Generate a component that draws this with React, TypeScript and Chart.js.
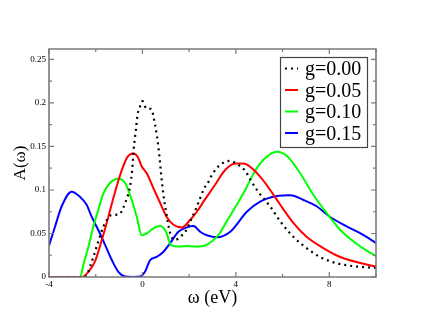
import React, { useEffect, useRef } from "react";
import { Chart, registerables } from "chart.js";

Chart.register(...registerables);

const seriesLabels = ["g=0.00", "g=0.05", "g=0.10", "g=0.15"];
const seriesColors = ["#000000", "#ff0000", "#00ff00", "#0000ff"];

const omega0 = [-4, -3, -2.5, -2.39, -2.24, -2.1, -1.89, -1.67, -1.34, -1.0, -0.7, -0.53, -0.44, -0.37, -0.28, -0.21, -0.1, 0.0, 0.16, 0.37, 0.54, 0.69, 0.79, 0.9, 1.01, 1.19, 1.4, 1.61, 1.86, 2.11, 2.4, 2.61, 2.83, 2.97, 3.33, 3.76, 4.04, 4.4, 4.61, 4.9, 5.47, 5.9, 6.47, 7.04, 7.6, 8.33, 9.19, 10];
const spectrum0 = [0, 0, 0, 0.002, 0.012, 0.023, 0.041, 0.058, 0.071, 0.072, 0.088, 0.104, 0.123, 0.148, 0.169, 0.186, 0.196, 0.202, 0.194, 0.193, 0.175, 0.148, 0.121, 0.094, 0.075, 0.05, 0.0425, 0.046, 0.053, 0.0675, 0.0855, 0.1, 0.1095, 0.117, 0.129, 0.1335, 0.13, 0.122, 0.1125, 0.1, 0.081, 0.064, 0.046, 0.033, 0.023, 0.0157, 0.012, 0.0105];

const omega1 = [-4, -3, -2.6, -2.31, -2.03, -1.74, -1.46, -1.17, -0.88, -0.64, -0.39, -0.2, -0.03, 0.19, 0.47, 0.76, 1.04, 1.33, 1.69, 2.04, 2.33, 2.65, 3.11, 3.54, 3.97, 4.33, 4.69, 5.11, 5.47, 5.9, 6.47, 7.04, 7.76, 8.47, 9.33, 10];
const spectrum1 = [0, 0, 0, 0.006, 0.018, 0.0425, 0.069, 0.098, 0.123, 0.138, 0.142, 0.138, 0.127, 0.119, 0.102, 0.085, 0.069, 0.06, 0.057, 0.0655, 0.075, 0.088, 0.106, 0.123, 0.1305, 0.1305, 0.125, 0.113, 0.1, 0.083, 0.062, 0.046, 0.033, 0.023, 0.016, 0.012];

const omega2 = [-4, -3, -2.67, -2.53, -2.31, -2.1, -1.89, -1.67, -1.39, -1.03, -0.74, -0.46, -0.24, -0.03, 0.19, 0.47, 0.76, 1.01, 1.21, 1.61, 1.9, 2.19, 2.61, 3.04, 3.3, 3.61, 4.04, 4.4, 4.76, 5.19, 5.76, 6.19, 6.76, 7.33, 7.9, 8.47, 9.33, 10];
const spectrum2 = [0, 0, 0, 0.014, 0.035, 0.058, 0.077, 0.096, 0.108, 0.113, 0.108, 0.0885, 0.069, 0.048, 0.05, 0.056, 0.0586, 0.052, 0.037, 0.035, 0.0356, 0.035, 0.0356, 0.0425, 0.05, 0.064, 0.083, 0.1, 0.119, 0.135, 0.144, 0.139, 0.119, 0.094, 0.073, 0.054, 0.035, 0.024];

const omega3 = [-4, -3.74, -3.46, -3.03, -2.67, -2.39, -2.17, -1.89, -1.6, -1.31, -1.03, -0.74, -0.4, -0.1, 0.11, 0.33, 0.61, 0.9, 1.19, 1.54, 1.9, 2.19, 2.47, 2.76, 3.19, 3.76, 4.47, 5.04, 5.76, 6.33, 6.9, 7.47, 8.04, 8.76, 9.47, 10];
const spectrum3 = [0.036, 0.058, 0.081, 0.098, 0.092, 0.083, 0.069, 0.054, 0.037, 0.0195, 0.006, 0.0005, 0, 0.0005, 0.006, 0.0195, 0.023, 0.029, 0.039, 0.052, 0.057, 0.0586, 0.052, 0.048, 0.0456, 0.052, 0.075, 0.0866, 0.093, 0.094, 0.0885, 0.081, 0.069, 0.058, 0.048, 0.039];

const xTickLabels = ["-4", "0", "4", "8"];
const yTickLabels = ["0", "0.05", "0.1", "0.15", "0.2", "0.25"];

const omegas = [omega0, omega1, omega2, omega3];
const spectra = [spectrum0, spectrum1, spectrum2, spectrum3];

const SERIF = "'Liberation Serif', 'Times New Roman', serif";
const FRAME = "#7a7a7a";

const framePlugin = {
  id: "frameTicks",
  afterDatasetsDraw(chart: any) {
    const { ctx, chartArea } = chart;
    const { left, right, top, bottom } = chartArea;
    ctx.save();
    ctx.strokeStyle = FRAME;
    ctx.lineWidth = 1.6;
    ctx.beginPath();
    ctx.rect(left, top, right - left, bottom - top);
    ctx.stroke();
    ctx.lineWidth = 1.2;
    const xs = chart.scales.x;
    const ys = chart.scales.y;
    xs.ticks.forEach((t: any) => {
      const v = t.value;
      const px = xs.getPixelForValue(v);
      const major = Math.abs(v % 4) < 1e-6;
      const len = major ? 5 : 3;
      ctx.beginPath();
      ctx.moveTo(px, bottom);
      ctx.lineTo(px, bottom - len);
      ctx.moveTo(px, top);
      ctx.lineTo(px, top + len);
      ctx.stroke();
    });
    ys.ticks.forEach((t: any, i: number) => {
      const py = ys.getPixelForValue(t.value);
      const major = i % 2 === 0;
      const len = major ? 5 : 3;
      ctx.beginPath();
      ctx.moveTo(left, py);
      ctx.lineTo(left + len, py);
      ctx.moveTo(right, py);
      ctx.lineTo(right - len, py);
      ctx.stroke();
    });
    ctx.restore();
  },
  afterDraw(chart: any) {
    const { ctx, chartArea } = chart;
    const bx = chartArea.right - 96;
    const by = chartArea.top + 8;
    const bw = 87;
    const bh = 90;
    ctx.save();
    ctx.fillStyle = "#ffffff";
    ctx.fillRect(bx, by, bw, bh);
    ctx.strokeStyle = "#444444";
    ctx.lineWidth = 1.2;
    ctx.strokeRect(bx + 0.5, by + 0.5, bw, bh);
    chart.data.datasets.forEach((ds: any, i: number) => {
      const cy = by + 11.5 + i * 21.5;
      ctx.strokeStyle = ds.borderColor;
      ctx.lineWidth = 2;
      ctx.setLineDash(ds.borderDash || []);
      ctx.beginPath();
      ctx.moveTo(bx + 5, cy);
      ctx.lineTo(bx + 18, cy);
      ctx.stroke();
      ctx.setLineDash([]);
      ctx.fillStyle = "#000000";
      ctx.font = `20px ${SERIF}`;
      ctx.textBaseline = "alphabetic";
      ctx.textAlign = "left";
      ctx.fillText(ds.label, bx + 25, cy + 6.8);
    });
    ctx.restore();
  },
};

export default function App() {
  const ref = useRef<HTMLCanvasElement | null>(null);
  useEffect(() => {
    if (!ref.current) return;
    const datasets = spectra.map((vals, i) => ({
      label: seriesLabels[i],
      data: vals.map((v, j) => ({ x: omegas[i][j], y: v })),
      borderColor: seriesColors[i],
      backgroundColor: seriesColors[i],
      borderWidth: i === 0 ? 2.2 : 2,
      borderDash: i === 0 ? [2, 4] : undefined,
      pointRadius: 0,
      fill: false,
      cubicInterpolationMode: "monotone" as const,
    }));
    const chart = new Chart(ref.current, {
      type: "line",
      data: { datasets },
      plugins: [framePlugin],
      options: {
        animation: false,
        responsive: false,
        layout: { padding: { left: 0, top: 49, right: 47, bottom: 0 } },
        plugins: { legend: { display: false }, tooltip: { enabled: false } },
        scales: {
          x: {
            type: "linear",
            min: -4,
            max: 10,
            grid: { display: false, drawTicks: false },
            border: { display: false },
            ticks: {
              stepSize: 2,
              autoSkip: false,
              maxRotation: 0,
              padding: 2,
              color: "#000",
              font: { family: SERIF, size: 9 },
              callback: (v: any) => {
                const idx = [-4, 0, 4, 8].indexOf(Number(v));
                return idx >= 0 ? xTickLabels[idx] : "";
              },
            },
            title: {
              display: true,
              text: "ω (eV)",
              color: "#000",
              font: { family: SERIF, size: 18 },
              padding: { top: 0, bottom: 18 },
            },
            afterFit: (s: any) => {
              s.height = 50;
            },
          },
          y: {
            type: "linear",
            min: 0,
            max: 0.262,
            grid: { display: false, drawTicks: false },
            border: { display: false },
            ticks: {
              stepSize: 0.025,
              includeBounds: false,
              autoSkip: false,
              padding: 3,
              color: "#000",
              font: { family: SERIF, size: 9 },
              callback: (v: any) => {
                const k = Math.round(Number(v) / 0.025);
                return k % 2 === 0 ? yTickLabels[k / 2] ?? "" : "";
              },
            },
            title: {
              display: true,
              text: "A(ω)",
              color: "#000",
              font: { family: SERIF, size: 17 },
              padding: { top: 10, bottom: 0 },
            },
            afterFit: (s: any) => {
              s.width = 49;
            },
          },
        },
      },
    });
    return () => chart.destroy();
  }, []);
  return (
    <div style={{ position: "fixed", left: 0, top: 0, width: 423, height: 327, background: "#fff" }}>
      <canvas ref={ref} width={423} height={327} style={{ display: "block", width: 423, height: 327 }} />
    </div>
  );
}
